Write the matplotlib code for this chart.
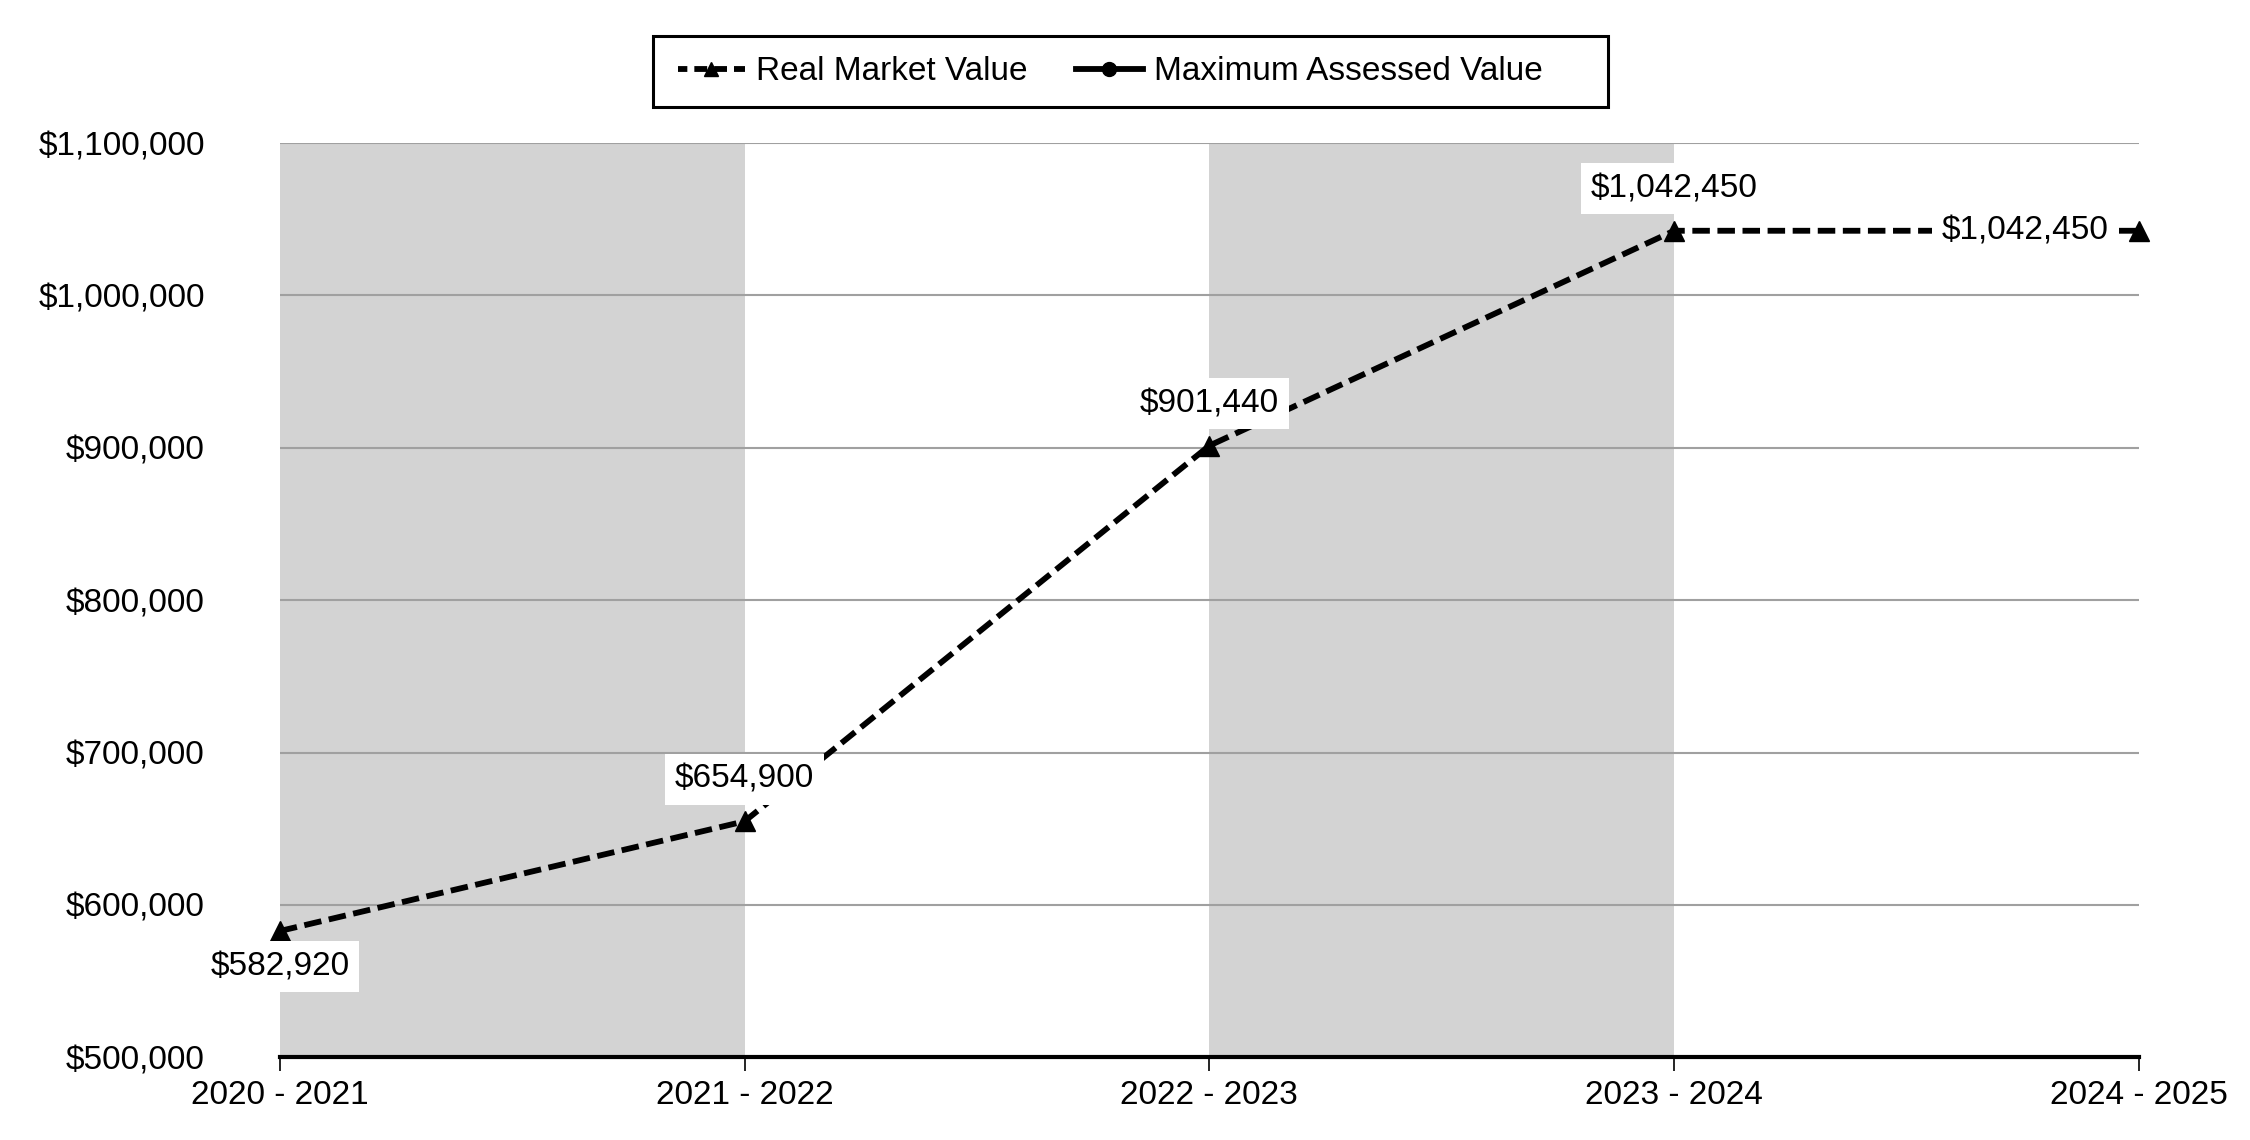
import matplotlib.pyplot as plt
from matplotlib.lines import Line2D
from matplotlib.patches import Rectangle

plt.rcParams['font.family'] = ['Liberation Sans', 'DejaVu Sans']

years = ["2020 - 2021", "2021 - 2022", "2022 - 2023", "2023 - 2024", "2024 - 2025"]
real_market = [582920, 654900, 901440, 1042450, 1042450]
max_assessed = []  # not plotted in the source chart, only shown in the legend
y_ticks = [500000, 600000, 700000, 800000, 900000, 1000000, 1100000]
shaded = [(0, 1), (2, 3)]

fig = plt.figure(figsize=(22.5, 11.4), dpi=100)
ax = fig.add_axes([0.1244, 0.0725, 0.8262, 0.802])

x = list(range(len(years)))

for a, b in shaded:
    ax.axvspan(a, b, color='#d3d3d3', zorder=0, lw=0)

for t in y_ticks[1:]:
    ax.axhline(t, color='#a0a0a0', lw=1.5, zorder=1)

ax.plot(x, real_market, color='black', lw=4.2, ls=(0, (3.0, 1.3)),
        marker='^', markersize=14, zorder=3, clip_on=False)

fmt = lambda v: "${:,.0f}".format(v)
box = dict(boxstyle='square,pad=0.3', fc='white', ec='none')
offsets = [(0, -36, 'center', 'center'),
           (0, 42, 'center', 'center'),
           (0, 42, 'center', 'center'),
           (0, 42, 'center', 'center'),
           (-30, 0, 'right', 'center')]
for i, v in enumerate(real_market):
    dx, dy, ha, va = offsets[i]
    ax.annotate(fmt(v), (x[i], v), xytext=(dx * 0.72, dy * 0.72),
                textcoords='offset points', ha=ha, va=va,
                fontsize=24, bbox=box, zorder=4)

ax.set_xlim(0, 4)
ax.set_ylim(500000, 1100000)
ax.set_xticks(x)
ax.set_xticklabels(years, fontsize=24)
ax.set_yticks(y_ticks)
ax.set_yticklabels([fmt(t) for t in y_ticks], fontsize=24)
ax.tick_params(axis='y', length=0, pad=54)
ax.tick_params(axis='x', length=10, width=1.2, direction='out', pad=6)

for s in ['top', 'right', 'left']:
    ax.spines[s].set_visible(False)
ax.spines['bottom'].set_linewidth(3.0)
ax.spines['bottom'].set_zorder(5)

# legend: handles and text without frame, box drawn separately
handles = [
    Line2D([], [], color='black', lw=4.2, ls=(0.6, (2.2, 1.2)), marker='^', markersize=10),
    Line2D([], [], color='black', lw=4.2, ls='-', marker='o', markersize=10),
]
leg = fig.legend(handles, ["Real Market Value", "Maximum Assessed Value"],
                 loc='center left', bbox_to_anchor=(0.3013, 0.937), ncol=2,
                 fontsize=24, frameon=False, handlelength=2.0,
                 handletextpad=0.35, columnspacing=1.45, borderpad=0, borderaxespad=0)
fig.patches.append(Rectangle((0.2902, 0.9065), 0.4245, 0.0619, transform=fig.transFigure,
                             fill=False, ec='black', lw=2.2))

fig.savefig("out.png", dpi=100)
